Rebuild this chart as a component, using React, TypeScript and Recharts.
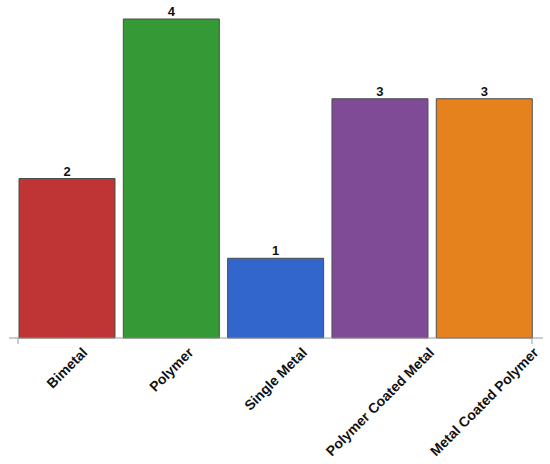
import React from 'react';
import { BarChart, Bar, XAxis, YAxis, Cell, LabelList } from 'recharts';

const categories = ['Bimetal', 'Polymer', 'Single Metal', 'Polymer Coated Metal', 'Metal Coated Polymer'];
const counts = [2, 4, 1, 3, 3];
const colors = ['#BF3434', '#359A35', '#3366CC', '#7F4A96', '#E6821E'];

const data = categories.map((c, i) => ({ name: c, value: counts[i] }));

const FONT = "'Liberation Sans', Arial, Helvetica, sans-serif";
const FS = 13;
const TICK_FS = 14;
let ctx: CanvasRenderingContext2D | null = null;
function measure(t: string, size: number) {
  if (!ctx) ctx = document.createElement('canvas').getContext('2d');
  if (!ctx) return t.length * size * 0.6;
  ctx.font = `bold ${size}px ${FONT}`;
  return ctx.measureText(t).width;
}

const HALF_BAR = 47.85;
const AXIS_GRAY = '#999999';

function Tick(props: any) {
  const { x, y, payload, index } = props;
  const label = String(payload.value);
  const L = measure(label, TICK_FS);
  const top = y;
  const cy = top + ((L + TICK_FS) * 0.7071) / 2 - 1;
  const axisY = y - 8;
  return (
    <g>
      {index === 0 && (
        <line x1={x - HALF_BAR - 1} x2={x - HALF_BAR - 1} y1={axisY} y2={axisY + 6} stroke={AXIS_GRAY} />
      )}
      {index === categories.length - 1 && (
        <line x1={x + HALF_BAR} x2={x + HALF_BAR} y1={axisY} y2={axisY + 6} stroke={AXIS_GRAY} />
      )}
      <text
        x={x}
        y={cy}
        textAnchor="middle"
        dominantBaseline="central"
        fontFamily={FONT}
        fontWeight="bold"
        fontSize={TICK_FS}
        fill="#111"
        transform={`rotate(-45, ${x}, ${cy})`}
      >
        {label}
      </text>
    </g>
  );
}

export default function App() {
  return (
    <div style={{ position: 'absolute', left: 0, top: 0, width: 550, height: 464, background: '#fff' }}>
      <BarChart
        width={550}
        height={464}
        data={data}
        margin={{ top: 19, right: 7, left: 9, bottom: 0 }}
        barCategoryGap={4.3}
      >
        <XAxis
          dataKey="name"
          interval={0}
          height={126}
          padding={{ left: 5.7, right: 6.7 }}
          axisLine={{ stroke: AXIS_GRAY }}
          tickLine={false}
          tickSize={6}
          tickMargin={2}
          tick={<Tick />}
        />
        <YAxis hide domain={[0, 4]} />
        <Bar dataKey="value" isAnimationActive={false} stroke="#4d4d4d" strokeWidth={1}>
          {data.map((d, i) => (
            <Cell key={d.name} fill={colors[i]} />
          ))}
          <LabelList
            dataKey="value"
            position="top"
            offset={3}
            fill="#111"
            fontFamily={FONT}
            fontWeight="bold"
            fontSize={FS}
          />
        </Bar>
      </BarChart>
    </div>
  );
}
